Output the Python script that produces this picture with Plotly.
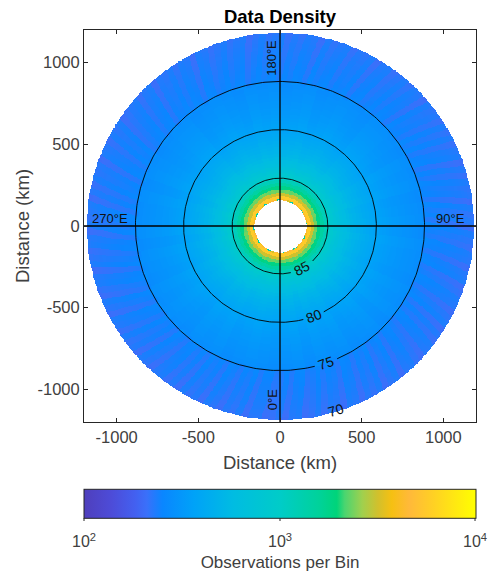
import numpy as np
import plotly.graph_objects as go

# Values: counts per 20 km ring, and log offsets per angular sector
hole_radius_km = 158
ring_start_km = 145
ring_step_km = 20
cell_km = 5
ring_counts = [4200, 5600, 3100, 2300, 1800, 1450, 1180, 980, 850, 760,
               690, 630, 590, 550, 515, 490, 468, 450, 428, 410,
               395, 380, 370, 358, 348, 340, 330, 322, 318, 312,
               306, 300, 295, 290, 285, 280, 276, 250, 246, 244,
               242, 240, 238, 236, 235, 234, 232, 230, 228, 226,
               224, 220]
sector_offset_inner = [0.00, 0.01, -0.01, 0.01, 0.00, 0.01, -0.01, 0.00, 0.01, -0.01, 0.01, 0.00,
                       0.01, -0.01, 0.00, 0.00, 0.01, -0.01, 0.01, 0.00, -0.01, 0.01, 0.00, 0.01,
                       -0.01, 0.00, 0.01, 0.01, -0.01, 0.00, 0.01, 0.00, -0.01, 0.01, 0.00, -0.01,
                       0.01, 0.00, 0.01, -0.01, 0.00, 0.01, 0.00, -0.01, 0.01, 0.01, 0.00, -0.01,
                       0.00, 0.01, -0.01, 0.01, 0.00, 0.00, 0.01, -0.01, 0.01, 0.00, -0.01, 0.01,
                       0.00, 0.01, 0.00, -0.01, 0.01, 0.00, 0.01, -0.01, 0.00, 0.01, 0.00, -0.01]
sector_offset_outer = [
    -0.02, 0.01, -0.03, 0.01, 0.02, -0.03, -0.01, 0.02, -0.02, 0.01, 0.00, -0.03, 0.02, 0.01, -0.03,
    0.01, -0.01, 0.02, -0.03, 0.00, 0.02, -0.03, 0.01, 0.02, -0.01, -0.03, 0.01, 0.02, -0.02, 0.01,
    -0.03, 0.02, 0.00, -0.03, 0.01, 0.02, -0.01, -0.03, 0.02, 0.01, -0.03, 0.01, 0.02, -0.02, 0.00,
    0.02, -0.03, 0.01, -0.01, 0.02, -0.03, 0.01, 0.00, 0.02, -0.02, 0.01, -0.03, 0.02, 0.01, -0.02,
    0.02, -0.01, 0.02, -0.02, 0.01, 0.00, 0.02, -0.03, 0.01, 0.02, -0.01, 0.02, 0.00, -0.02, 0.02,
    0.01, -0.03, 0.02, 0.00, 0.01, -0.02, 0.02, 0.01, -0.01, 0.02, -0.03, 0.01, 0.02, -0.01, 0.01,
    -0.02, 0.02, 0.01, -0.01, 0.02, 0.00, -0.03, 0.02, 0.01, -0.01, 0.02, 0.00, -0.02, 0.01, 0.02,
    -0.03, 0.01, 0.02, -0.01, 0.02, 0.00, 0.01, -0.03, 0.02, 0.01, -0.02, 0.02, 0.01, -0.01, -0.03,
    0.02, 0.00, 0.02, -0.02, 0.01, 0.02, -0.03, 0.01, 0.00, 0.02, -0.02, 0.01, -0.03, 0.02, 0.01,
    -0.01, 0.02, -0.03, 0.01, 0.02, -0.02, 0.00, 0.02, -0.03, 0.01, 0.02, -0.01, -0.03, 0.02, 0.00,
    -0.03, 0.02, 0.01, -0.02, 0.02, -0.01, 0.01, -0.03, 0.02, 0.00, -0.03, 0.01, 0.02, -0.02, 0.01,
    -0.03, 0.02, -0.01, 0.01, -0.03, 0.02, 0.00, -0.03, 0.01, -0.01, 0.02, -0.03, 0.01, 0.01, -0.03]
outer_start_km = 870
streak_slant_deg_per_km = 0.012
rim_ring_counts = [1500, 4000, 4600, 4800, 1300, 3600, 4800, 4600, 1500, 4000, 4400, 5000,
                   1300, 3400, 4600, 4400, 1500, 3800, 4400, 4600, 1300, 3200, 4800, 4200,
                   1500, 4000, 4600, 4800, 1300, 3600, 4800, 4600, 1500, 4000, 4400, 5000,
                   1300, 3400, 4600, 4400, 1500, 3800, 4400, 4600, 1300, 3200, 4800, 4200]

lat_labels = [85, 80, 75, 70]
lat_label_radius_km = [293, 590, 885, 1180]
lat_label_angle_deg = [28, 20.5, 18.6, 17]     # clockwise from straight down
ring_radius_km = [293, 590, 885]
ring_gap_center_deg = [28, 20.5, 18.6]
ring_gap_half_deg = [15, 6.5, 4.7]
lon_labels = ["180°E", "0°E", "90°E", "270°E"]
lon_label_x = [-49, -49, 1043, -1043]
lon_label_y = [1030, -1067, 43, 43]
lon_label_rot = [-90, -90, 0, 0]

axis_limit = 1200
axis_ticks = [-1000, -500, 0, 500, 1000]
axis_tick_text = ["-1000", "-500", "0", "500", "1000"]
cbar_min = 2
cbar_max = 4
cbar_tickvals = [2, 3, 3.995]
cbar_ticktext = ["10<sup>2</sup>", "10<sup>3</sup>", "10<sup>4</sup>"]

colors = [[0.00, "#4f3fbc"], [0.07, "#4d4cd8"], [0.13, "#4360f0"], [0.16, "#3a70fa"], [0.20, "#0a86ff"],
          [0.28, "#00a2f8"], [0.38, "#00bce2"], [0.50, "#00ccc8"], [0.60, "#00d29a"],
          [0.645, "#00d47a"], [0.665, "#4ad570"], [0.71, "#a0d04e"], [0.75, "#d2c02c"],
          [0.785, "#f6c012"], [0.83, "#ffb93a"], [0.89, "#ffd024"], [1.00, "#ffff00"]]

edges = np.arange(-axis_limit, axis_limit + 1, cell_km)
centers = (edges[:-1] + edges[1:]) / 2
X, Y = np.meshgrid(centers, centers)
R = np.hypot(X, Y)
az = np.degrees(np.arctan2(X, -Y)) % 360
idx = ((R - ring_start_km) // ring_step_km).astype(int)
valid = (R >= hole_radius_km) & (idx >= 0) & (idx < len(ring_counts))
counts = np.array(ring_counts, float)
z = np.full(R.shape, np.nan)
inner = np.array(sector_offset_inner)[(az // 5).astype(int) % 72]
az_slant = az + (R - outer_start_km) * streak_slant_deg_per_km
outer = np.array(sector_offset_outer)[(az_slant // 2).astype(int) % 180]
offs = np.where(R >= outer_start_km, outer, inner)
z[valid] = np.log10(counts[idx[valid]]) + offs[valid]
rim = np.array(rim_ring_counts, float)[(az // 7.5).astype(int) % 48]
rim_cells = valid & (idx == 0)
z[rim_cells] = np.log10(rim[rim_cells])

FONT = "Liberation Sans"
PLOT_BOTTOM = 422
PLOT_H = 392
fig = go.Figure()
fig.add_trace(go.Heatmap(
    x=centers, y=centers, z=np.round(z, 3), zmin=cbar_min, zmax=cbar_max, colorscale=colors,
    hoverongaps=False, zsmooth="best",
    colorbar=dict(orientation="h", xref="paper", yref="paper",
                  x=0.5, xanchor="center", y=(PLOT_BOTTOM - 518 - 54) / PLOT_H, yanchor="bottom",
                  lenmode="pixels", len=392, thicknessmode="pixels", thickness=29,
                  xpad=0, ypad=0, outlinecolor="#262626", outlinewidth=1,
                  tickmode="array", tickvals=cbar_tickvals, ticktext=cbar_ticktext,
                  ticks="outside", ticklen=10, tickcolor="rgba(0,0,0,0)", tickwidth=1,
                  tickfont=dict(family=FONT, size=16, color="#404040"),
                  title=dict(text="Observations per Bin", side="bottom",
                             font=dict(family=FONT, size=17, color="#404040")))))

for r, ang, gap in zip(ring_radius_km, ring_gap_center_deg, ring_gap_half_deg):
    th = np.radians(np.linspace(ang + gap, ang - gap + 360, 361))
    fig.add_trace(go.Scatter(x=r * np.sin(th), y=-r * np.cos(th), mode="lines",
                             line=dict(color="black", width=0.9), hoverinfo="skip", showlegend=False))
for xs, ys in (([-axis_limit, axis_limit], [0, 0]), ([0, 0], [-axis_limit, axis_limit])):
    fig.add_trace(go.Scatter(x=xs, y=ys, mode="lines", line=dict(color="black", width=1.3),
                             hoverinfo="skip", showlegend=False))

for lat, r, ang in zip(lat_labels, lat_label_radius_km, lat_label_angle_deg):
    th = np.radians(ang)
    fig.add_annotation(x=r * np.sin(th), y=-r * np.cos(th), text=str(lat), showarrow=False,
                       textangle=-ang, font=dict(family=FONT, size=14, color="#111111"))
for t, x, y, rot in zip(lon_labels, lon_label_x, lon_label_y, lon_label_rot):
    fig.add_annotation(x=x, y=y, text=t, showarrow=False, textangle=rot,
                       font=dict(family=FONT, size=13, color="#111111"))
fig.add_annotation(xref="paper", yref="paper", x=(22 - 84) / 392, y=0.5, text="Distance (km)",
                   showarrow=False, textangle=-90, xanchor="center", yanchor="middle",
                   font=dict(family=FONT, size=18.5, color="#404040"))

# Short visible colorbar ticks (the colorbar's own are long and clear, to place the labels)
for v in cbar_tickvals:
    frac = (v - cbar_min) / (cbar_max - cbar_min)
    fig.add_shape(type="line", xref="paper", yref="paper", x0=frac, x1=frac,
                  y0=(PLOT_BOTTOM - 518) / PLOT_H, y1=(PLOT_BOTTOM - 521) / PLOT_H,
                  line=dict(color="#262626", width=1))

axis = dict(range=[-axis_limit, axis_limit], tickmode="array", tickvals=axis_ticks,
            ticktext=axis_tick_text, ticks="inside", ticklen=4, tickcolor="#262626", tickwidth=1,
            showline=True, linecolor="#262626", linewidth=1, mirror="ticks",
            showgrid=False, zeroline=False, automargin=True,
            tickfont=dict(family=FONT, size=16.5, color="#404040"))
fig.update_layout(
    width=488, height=575, autosize=False, plot_bgcolor="white", paper_bgcolor="white",
    margin=dict(l=84, r=12, t=30, b=153, autoexpand=False), showlegend=False,
    title=dict(text="<b>Data Density</b>", x=280 / 488, xanchor="center", y=1 - 17 / 575,
               yanchor="middle", automargin=False, font=dict(family=FONT, size=18.5, color="black")),
    xaxis=dict(axis, title=dict(text="Distance (km)", standoff=11, font=dict(family=FONT, size=18.5, color="#404040"))),
    yaxis=axis)
fig.write_html("out.html", post_script="document.body.style.margin='0';",
               config={"displayModeBar": False})
